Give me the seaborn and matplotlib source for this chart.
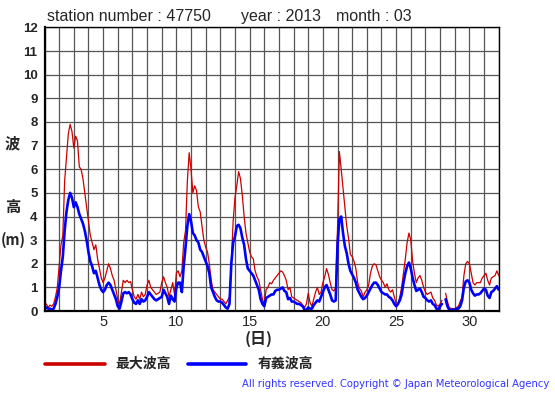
import numpy as np
import pandas as pd
import matplotlib
matplotlib.use("Agg")
import matplotlib.pyplot as plt
from matplotlib.lines import Line2D
import seaborn as sns

# ---- data: 3-hourly readings, day 1.0 .. 32.0 ----
max_wave = [
    # day 1
    0.2, 0.3, 0.15, 0.25, 0.2, 0.3, 0.6, 1.0,
    # day 2
    1.9, 2.8, 3.2, 5.5, 6.5, 7.5, 7.9, 7.6,
    # day 3
    6.9, 7.4, 7.2, 6.1, 6.0, 5.6, 5.0, 4.4,
    # day 4
    3.8, 3.2, 2.9, 2.6, 2.8, 2.2, 1.8, 1.4,
    # day 5
    1.2, 1.4, 1.7, 2.0, 1.8, 1.5, 1.3, 0.9,
    # day 6
    0.5, 0.3, 0.8, 1.3, 1.2, 1.3, 1.2, 1.25,
    # day 7
    0.9, 0.6, 0.5, 0.7, 0.5, 0.8, 0.6, 0.7,
    # day 8
    1.1, 1.3, 1.0, 0.9, 0.8, 0.7, 0.75, 0.8,
    # day 9
    1.2, 1.45, 1.2, 1.0, 0.6, 0.9, 1.2, 0.7,
    # day 10
    1.6, 1.7, 1.45, 1.7, 2.9, 3.4, 5.5, 6.7,
    # day 11
    6.0, 5.0, 5.3, 5.1, 4.4, 4.2, 3.6, 3.0,
    # day 12
    2.7, 2.5, 2.0, 1.3, 0.9, 0.8, 0.7, 0.6,
    # day 13
    0.5, 0.5, 0.4, 0.3, 0.45, 0.6, 2.0, 3.8,
    # day 14
    4.8, 5.3, 5.9, 5.6, 4.9, 4.0, 3.3, 2.9,
    # day 15
    2.5, 2.3, 2.2, 1.7, 1.45, 1.3, 0.9, 0.5,
    # day 16
    0.3, 0.9, 1.0, 1.2, 1.15, 1.3, 1.4, 1.5,
    # day 17
    1.6, 1.7, 1.65, 1.5, 1.3, 0.9, 1.0, 0.6,
    # day 18
    0.55, 0.5, 0.45, 0.4, 0.35, 0.25, 0.15, 0.3,
    # day 19
    0.75, 0.35, 0.2, 0.5, 0.8, 1.0, 0.7, 0.8,
    # day 20
    1.2, 1.45, 1.8, 1.55, 1.2, 0.9, 0.85, 1.0,
    # day 21
    3.5, 6.75, 6.0, 5.2, 4.4, 3.6, 3.1, 2.4,
    # day 22
    2.3, 2.1, 1.8, 1.2, 0.95, 0.85, 0.6, 0.8,
    # day 23
    0.9, 1.1, 1.6, 1.9, 2.0, 1.95, 1.7, 1.45,
    # day 24
    1.3, 1.2, 1.0, 1.15, 0.9, 0.8, 0.9, 0.6,
    # day 25
    0.3, 0.25, 0.6, 1.0, 1.6, 2.2, 2.9, 3.3,
    # day 26
    3.0, 2.1, 1.6, 1.2, 1.4, 1.5, 1.3, 1.0,
    # day 27
    0.8, 0.7, 0.75, 0.8, 0.55, 0.45, 0.25, 0.2,
    # day 28
    0.3, 0.45, np.nan, 0.75, 0.4, 0.15, 0.1, 0.1,
    # day 29
    0.1, 0.15, 0.2, 0.4, 0.6, 1.5, 2.0, 2.1,
    # day 30
    2.0, 1.6, 1.2, 1.1, 1.2, 1.2, 1.2, 1.4,
    # day 31
    1.5, 1.6, 1.3, 1.1, 1.4, 1.45, 1.5, 1.7,
    # day 32
    1.5,
]

sig_wave = [
    # day 1
    0.1, 0.15, 0.1, 0.1, 0.05, 0.1, 0.3, 0.6,
    # day 2
    1.0, 1.7, 2.3, 3.4, 4.2, 4.7, 5.0, 4.8,
    # day 3
    4.4, 4.6, 4.4, 4.1, 3.9, 3.7, 3.4, 3.0,
    # day 4
    2.5, 2.1, 1.9, 1.6, 1.7, 1.4, 1.1, 0.9,
    # day 5
    0.8, 0.9, 1.1, 1.2, 1.1, 0.9, 0.7, 0.5,
    # day 6
    0.2, 0.1, 0.4, 0.75, 0.8, 0.75, 0.8, 0.7,
    # day 7
    0.5, 0.35, 0.3, 0.45, 0.3, 0.5, 0.4, 0.45,
    # day 8
    0.6, 0.8, 0.7, 0.6, 0.5, 0.45, 0.5, 0.55,
    # day 9
    0.6, 0.9, 0.75, 0.6, 0.3, 0.65, 0.5, 0.4,
    # day 10
    1.0, 1.2, 1.2, 0.8, 1.9, 2.7, 3.6, 4.1,
    # day 11
    3.8, 3.3, 3.2, 3.0, 2.9, 2.6, 2.5, 2.3,
    # day 12
    2.1, 1.9, 1.6, 1.0, 0.8, 0.6, 0.45, 0.4,
    # day 13
    0.4, 0.35, 0.25, 0.15, 0.1, 0.3, 2.0, 2.9,
    # day 14
    3.15, 3.6, 3.65, 3.5, 3.1, 2.8, 2.2, 1.8,
    # day 15
    1.7, 1.6, 1.5, 1.3, 1.1, 0.9, 0.5, 0.3,
    # day 16
    0.2, 0.55, 0.6, 0.65, 0.7, 0.7, 0.85, 0.9,
    # day 17
    0.9, 0.95, 1.0, 0.85, 0.8, 0.5, 0.55, 0.4,
    # day 18
    0.4, 0.35, 0.3, 0.3, 0.25, 0.2, 0.05, 0.05,
    # day 19
    0.15, 0.1, 0.1, 0.25, 0.35, 0.45, 0.4, 0.6,
    # day 20
    0.8, 1.0, 1.1, 0.9, 0.7, 0.45, 0.4, 0.45,
    # day 21
    2.8, 3.9, 4.0, 3.3, 2.75, 2.45, 2.0, 1.7,
    # day 22
    1.55, 1.4, 1.2, 0.9, 0.75, 0.6, 0.5, 0.55,
    # day 23
    0.65, 0.8, 0.95, 1.1, 1.2, 1.2, 1.1, 0.95,
    # day 24
    0.8, 0.75, 0.7, 0.7, 0.6, 0.55, 0.45, 0.3,
    # day 25
    0.2, 0.3, 0.45, 0.7, 1.2, 1.6, 1.9, 2.05,
    # day 26
    1.8, 1.4, 1.1, 0.85, 0.9, 0.95, 0.8, 0.6,
    # day 27
    0.55, 0.45, 0.4, 0.45, 0.3, 0.25, 0.1, 0.05,
    # day 28
    0.2, 0.3, np.nan, 0.5, 0.2, 0.05, 0.05, 0.05,
    # day 29
    0.05, 0.1, 0.1, 0.2, 0.45, 1.0, 1.25, 1.3,
    # day 30
    1.2, 0.9, 0.75, 0.65, 0.7, 0.7, 0.75, 0.85,
    # day 31
    0.95, 0.9, 0.65, 0.55, 0.8, 0.85, 0.95, 1.05,
    # day 32
    0.9,
]

days = 1 + np.arange(len(max_wave)) / 8.0
x_ticks = [5, 10, 15, 20, 25, 30]
y_ticks = list(range(0, 13))
label_max = "最大波高"
label_sig = "有義波高"
title_station = "station number : 47750"
title_year = "year : 2013"
title_month = "month : 03"

RED = "#cc0000"
BLUE = "#0000ff"


def make_frame(values):
    v = np.asarray(values, dtype=float)
    seg = np.cumsum(np.isnan(v))
    df = pd.DataFrame({"day": days, "h": v, "seg": seg})
    return df.dropna()


sns.set_style("white")
plt.rcParams["font.family"] = ["Liberation Sans", "DejaVu Sans"]

fig = plt.figure(figsize=(5.55, 3.95), dpi=100)
W, H = 555.0, 395.0
ax = fig.add_axes([44.5 / W, 1 - 311 / H, (498.7 - 44.5) / W, (311 - 27.5) / H])

sns.lineplot(data=make_frame(max_wave), x="day", y="h", units="seg",
             estimator=None, color=RED, lw=0.9, ax=ax, legend=False)
sns.lineplot(data=make_frame(sig_wave), x="day", y="h", units="seg",
             estimator=None, color=BLUE, lw=1.9, ax=ax, legend=False)

ax.set_xlim(1, 32)
ax.set_ylim(0, 12)
ax.set_xticks(range(1, 33), minor=True)
ax.set_xticks(x_ticks)
ax.set_yticks(y_ticks)
ax.grid(True, which="both", axis="x", color="#555555", lw=0.9)
ax.grid(True, which="major", axis="y", color="#555555", lw=0.9)
ax.set_axisbelow(True)
ax.tick_params(which="both", length=0)
ax.tick_params(axis="x", pad=3, labelsize=10.5)
ax.tick_params(axis="y", pad=5, labelsize=9.5)
for t in ax.get_yticklabels():
    t.set_fontweight("bold")
ax.set_xlabel("")
ax.set_ylabel("")
for s in ax.spines.values():
    s.set_visible(True)
    s.set_color("black")
    s.set_linewidth(1.0)
ax.spines["left"].set_linewidth(1.6)
ax.spines["bottom"].set_linewidth(1.6)

# title texts
fig.text(47 / W, 1 - 16.5 / H, title_station, fontsize=11.5, va="center", ha="left")
fig.text(241 / W, 1 - 16.5 / H, title_year, fontsize=11.5, va="center", ha="left")
fig.text(336 / W, 1 - 16.5 / H, title_month, fontsize=11.5, va="center", ha="left")

cjk = ["Noto Sans CJK JP", "DejaVu Sans"]
fig.text(12.5 / W, 1 - 143 / H, "波", family=cjk, fontsize=11, fontweight="bold", ha="center", va="center")
fig.text(12.5 / W, 1 - 207 / H, "高", family=cjk, fontsize=11, fontweight="bold", ha="center", va="center")
fig.text(13 / W, 1 - 240 / H, "(m)", family=cjk, fontsize=10.5, fontweight="bold", ha="center", va="center")
fig.text(259 / W, 1 - 339 / H, "(日)", family=cjk, fontsize=11.5, fontweight="bold", ha="center", va="center")

# legend
fig.add_artist(Line2D([45 / W, 105 / W], [1 - 363.5 / H] * 2, color=RED, lw=2.6, transform=fig.transFigure))
fig.add_artist(Line2D([188 / W, 246 / W], [1 - 363.5 / H] * 2, color=BLUE, lw=2.6, transform=fig.transFigure))
fig.text(115 / W, 1 - 363.5 / H, label_max, family=cjk, fontsize=10, fontweight="bold", ha="left", va="center")
fig.text(258 / W, 1 - 363.5 / H, label_sig, family=cjk, fontsize=10, fontweight="bold", ha="left", va="center")

fig.text(549 / W, 1 - 384 / H, "All rights reserved. Copyright © Japan Meteorological Agency",
         family=["DejaVu Sans"], fontsize=7.2, color="#3333ff", ha="right", va="center")

fig.savefig("out.png", dpi=100, facecolor="white")
